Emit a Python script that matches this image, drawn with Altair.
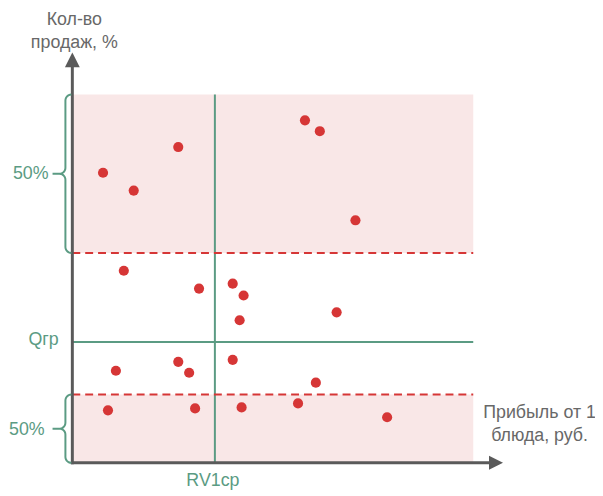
import altair as alt
import pandas as pd
import numpy as np

# ---- data (units: x 0..435, y 0..414) ----
pt_x = [31, 62, 107, 235, 250, 286, 52, 128, 162, 173, 169, 267, 44, 107, 118, 162, 246, 36, 124, 171, 228, 318]
pt_y = [293, 275, 319, 346, 335, 245, 194, 176, 181, 169, 144, 152, 93, 102, 91, 104, 81, 53, 55, 56, 60, 46]

zone_lo = [212, 0]      # pink zones: bottom edges
zone_hi = [372, 69]     # pink zones: top edges
zone_right = 405
dash_y = [212, 69]
q_gr = 122
rv1 = 144

label_text = ["Кол-во", "продаж, %", "Прибыль от 1", "блюда, руб.", "Qгр", "RV1cp", "50%", "50%"]
label_x = [2, 2, 472, 472, -29, 142, -42, -46]
label_y = [447, 424, 50, 27, 124, -18, 292, 33]
label_kind = ["axis", "axis", "axis", "axis", "green", "green", "green", "green"]

GREEN = "#5b9b83"
RED = "#d63636"
PINK = "#f9e7e7"
AXIS = "#5a5a5a"
GREY_TXT = "#686868"
FONT = "Liberation Sans"

X = alt.Scale(domain=[0, 435], nice=False, zero=False)
Y = alt.Scale(domain=[0, 414], nice=False, zero=False)

zones = pd.DataFrame({"x": 0, "x2": zone_right, "y": zone_lo, "y2": zone_hi})
rects = alt.Chart(zones).mark_rect(color=PINK).encode(
    x=alt.X("x:Q", scale=X, axis=None), x2="x2:Q",
    y=alt.Y("y:Q", scale=Y, axis=None), y2="y2:Q")

vline = alt.Chart(pd.DataFrame({"x": [rv1], "y": [0], "y2": [zone_hi[0]]})).mark_rule(
    color=GREEN, strokeWidth=2).encode(
    x=alt.X("x:Q", scale=X, axis=None), y=alt.Y("y:Q", scale=Y, axis=None), y2="y2:Q")
hline = alt.Chart(pd.DataFrame({"x": [0], "x2": [zone_right], "y": [q_gr]})).mark_rule(
    color=GREEN, strokeWidth=2).encode(
    x=alt.X("x:Q", scale=X, axis=None), x2="x2:Q", y=alt.Y("y:Q", scale=Y, axis=None))

dashes = alt.Chart(pd.DataFrame({"x": 0, "x2": zone_right, "y": dash_y})).mark_rule(
    color=RED, strokeWidth=2, strokeDash=[8, 5]).encode(
    x=alt.X("x:Q", scale=X, axis=None), x2="x2:Q", y=alt.Y("y:Q", scale=Y, axis=None))

# axes with arrows
yaxis = alt.Chart(pd.DataFrame({"x": [0], "y": [-1.5], "y2": [402]})).mark_rule(
    color=AXIS, strokeWidth=3).encode(
    x=alt.X("x:Q", scale=X, axis=None), y=alt.Y("y:Q", scale=Y, axis=None), y2="y2:Q")
xaxis = alt.Chart(pd.DataFrame({"x": [-1.5], "x2": [423], "y": [0]})).mark_rule(
    color=AXIS, strokeWidth=3).encode(
    x=alt.X("x:Q", scale=X, axis=None), x2="x2:Q", y=alt.Y("y:Q", scale=Y, axis=None))
arrow_up = alt.Chart(pd.DataFrame({"x": [0], "y": [407]})).mark_point(
    shape="M-1,1L0,-1L1,1Z", filled=True, size=225, color=AXIS, opacity=1).encode(
    x=alt.X("x:Q", scale=X, axis=None), y=alt.Y("y:Q", scale=Y, axis=None))
arrow_right = alt.Chart(pd.DataFrame({"x": [428], "y": [0]})).mark_point(
    shape="M-1,-1L1,0L-1,1Z", filled=True, size=200, color=AXIS, opacity=1).encode(
    x=alt.X("x:Q", scale=X, axis=None), y=alt.Y("y:Q", scale=Y, axis=None))

points = alt.Chart(pd.DataFrame({"x": pt_x, "y": pt_y})).mark_circle(
    color=RED, size=105, opacity=1).encode(
    x=alt.X("x:Q", scale=X, axis=None), y=alt.Y("y:Q", scale=Y, axis=None))

# curly braces
def brace(y0, y1, bid, r=6, xe=-1, xs=-7, xt=-20):
    ym = (y0 + y1) / 2
    pts = []
    def arc(cx, cy, a0, a1):
        for a in np.linspace(np.radians(a0), np.radians(a1), 8):
            pts.append((cx + r * np.cos(a), cy + r * np.sin(a)))
    arc(xe, y1 - r, 90, 180)
    arc(xs - r, ym + r, 0, -90)
    pts.append((xt, ym))
    arc(xs - r, ym - r, 90, 0)
    arc(xe, y0 + r, 180, 270)
    return pd.DataFrame({"x": [p[0] for p in pts], "y": [p[1] for p in pts],
                         "i": range(len(pts)), "id": bid})

br = pd.concat([brace(zone_lo[0], zone_hi[0], "a"), brace(zone_lo[1], zone_hi[1], "b")])
braces = alt.Chart(br).mark_line(color=GREEN, strokeWidth=2).encode(
    x=alt.X("x:Q", scale=X, axis=None), y=alt.Y("y:Q", scale=Y, axis=None),
    order="i:Q", detail="id:N")

labels_df = pd.DataFrame({"x": label_x, "y": label_y, "t": label_text, "k": label_kind})
texts = alt.Chart(labels_df).mark_text(font=FONT, fontSize=18, baseline="middle", align="center").encode(
    x=alt.X("x:Q", scale=X, axis=None), y=alt.Y("y:Q", scale=Y, axis=None),
    text="t:N",
    color=alt.Color("k:N", scale=alt.Scale(domain=["axis", "green"], range=[GREY_TXT, GREEN]), legend=None))

chart = alt.layer(rects, vline, hline, dashes, yaxis, xaxis, arrow_up, arrow_right,
                  points, braces, texts).properties(
    width=435, height=414,
    autosize=alt.AutoSizeParams(type="none"),
    padding={"left": 65, "top": 43, "right": 93, "bottom": 26},
).configure_view(stroke=None)

chart.save("out.html", embed_options={"renderer": "svg", "actions": False})
